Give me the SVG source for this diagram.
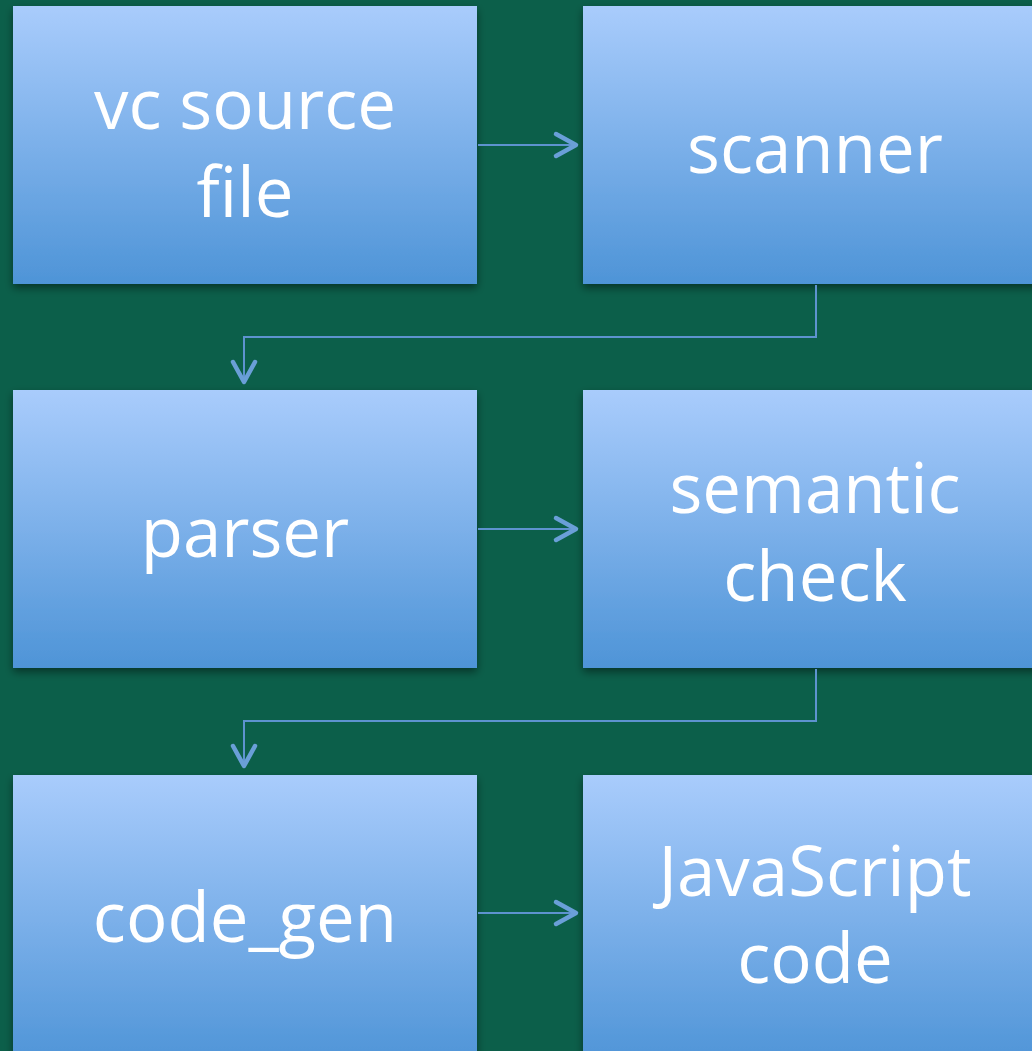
<svg xmlns="http://www.w3.org/2000/svg" width="1032" height="1051" viewBox="0 0 1032 1051">
<style>
.box{fill:url(#g);filter:url(#sh)}
.lbl{font-family:"Open Sans","Liberation Sans",sans-serif;font-size:69px;fill:#fff;text-anchor:middle}
.con{fill:none;stroke:#5E93CF;stroke-width:2}
</style>
<defs>
<linearGradient id="g" x1="0" y1="0" x2="0" y2="1">
<stop offset="0" stop-color="#A9CCFC"/>
<stop offset="1" stop-color="#4E94D7"/>
</linearGradient>
<filter id="sh" x="-10%" y="-10%" width="120%" height="130%">
<feDropShadow dx="0" dy="4" stdDeviation="4" flood-color="#000" flood-opacity="0.45"/>
</filter>
<marker id="ah" viewBox="0 0 30 30" refX="24" refY="15" markerWidth="30" markerHeight="30" markerUnits="userSpaceOnUse" orient="auto">
<path d="M4,4 L24,15 L4,26" fill="none" stroke="#6A9FD8" stroke-width="4.5" stroke-linecap="round" stroke-linejoin="round"/>
</marker>
</defs>
<rect width="1032" height="1051" fill="#0C5F4A"/>
<g id="n1"><rect class="box" x="13" y="6" width="464" height="278"/><text class="lbl" x="245" y="129">vc source</text><text class="lbl" x="245" y="217">file</text></g>
<g id="n2"><rect class="box" x="583" y="6" width="464" height="278"/><text class="lbl" x="815" y="173">scanner</text></g>
<g id="n3"><rect class="box" x="13" y="390" width="464" height="278"/><text class="lbl" x="245" y="557">parser</text></g>
<g id="n4"><rect class="box" x="583" y="390" width="464" height="278"/><text class="lbl" x="815" y="513">semantic</text><text class="lbl" x="815" y="601">check</text></g>
<g id="n5"><rect class="box" x="13" y="775" width="464" height="290"/><text class="lbl" x="245" y="942">code_gen</text></g>
<g id="n6"><rect class="box" x="583" y="775" width="464" height="290"/><text class="lbl" x="815" y="896">JavaScript</text><text class="lbl" x="815" y="983">code</text></g>
<g id="connectors">
<path class="con" d="M478,145 H576" marker-end="url(#ah)"/>
<path class="con" d="M816,285 V337 H244 V382" marker-end="url(#ah)"/>
<path class="con" d="M478,529 H576" marker-end="url(#ah)"/>
<path class="con" d="M816,669 V721 H244 V766" marker-end="url(#ah)"/>
<path class="con" d="M478,913 H576" marker-end="url(#ah)"/>
</g>
</svg>
